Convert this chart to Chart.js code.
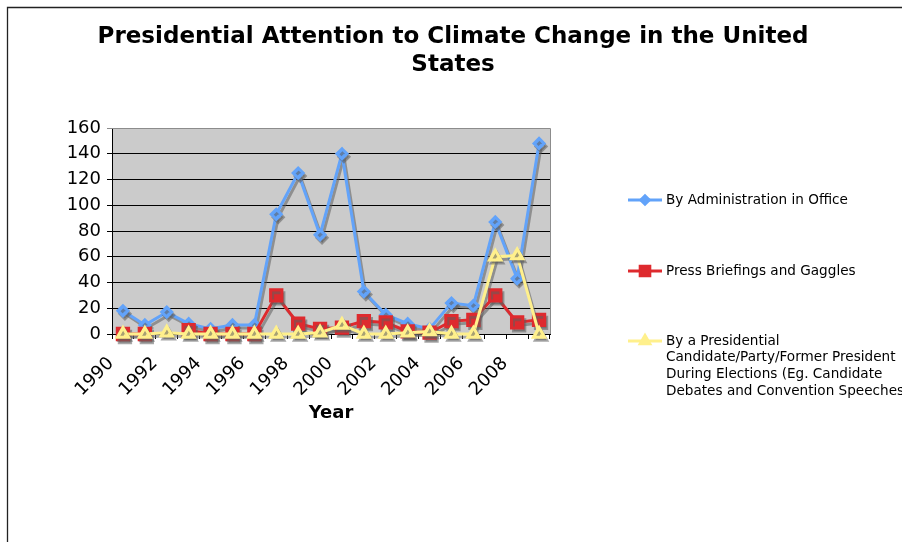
<!DOCTYPE html>
<html>
<head>
<meta charset="utf-8">
<script src="https://cdn.jsdelivr.net/npm/chart.js@4.4.1/dist/chart.umd.min.js"></script>
<style>
  html, body { margin: 0; padding: 0; background: #ffffff; }
  #wrap { width: 902px; height: 542px; position: relative; }
</style>
</head>
<body>
<div id="wrap"><canvas id="chart" width="902" height="542"></canvas></div>
<script>
// Years on the category axis
const years = ['1990','1991','1992','1993','1994','1995','1996','1997','1998','1999',
               '2000','2001','2002','2003','2004','2005','2006','2007','2008','2009'];

// Number of climate change mentions per year
const administrationInOffice = [18, 7, 17, 8, 4, 7, 7, 93, 125, 77, 140, 33, 15, 8, 4, 24, 22, 87, 43, 148];
const pressBriefings         = [0, 0, null, 3, 0, 0, 0, 30, 8, 4, 5, 10, 9, 2, 1, 10, 11, 30, 9, 11];
const candidatesAndParties   = [0, 0, 1, 0, 0, 0, 0, 0, 0, 1, 7, 0, 0, 1, 2, 0, 0, 60, 61, 0];

// Value axis ticks
const yTicks = [0, 20, 40, 60, 80, 100, 120, 140, 160];

const seriesNames = [
  'By Administration in Office',
  'Press Briefings and Gaggles',
  'By a Presidential Candidate/Party/Former President During Elections (Eg. Candidate Debates and Convention Speeches)'
];

const titleLines = ['Presidential Attention to Climate Change in the United', 'States'];
const xAxisTitle = 'Year';

const FONT = "'DejaVu Sans', Verdana, sans-serif";

// Gray plot background with a light border on top and right
const plotFrame = {
  id: 'plotFrame',
  beforeDraw(chart) {
    const { ctx, chartArea: a } = chart;
    ctx.save();
    ctx.fillStyle = '#cbcbcb';
    ctx.fillRect(a.left, a.top, a.right - a.left, a.bottom - a.top);
    ctx.restore();
  },
  beforeDatasetsDraw(chart) {
    const { ctx, chartArea: a } = chart;
    ctx.save();
    ctx.strokeStyle = '#8c8c8c';
    ctx.lineWidth = 1;
    ctx.beginPath();
    ctx.moveTo(a.left, Math.round(a.top) + 0.5);
    ctx.lineTo(Math.round(a.right) + 0.5, Math.round(a.top) + 0.5);
    ctx.lineTo(Math.round(a.right) + 0.5, a.bottom);
    ctx.stroke();
    ctx.restore();
  }
};

// Drop shadow under each series
const seriesShadow = {
  id: 'seriesShadow',
  beforeDatasetDraw(chart) {
    const ctx = chart.ctx;
    ctx.save();
    ctx.shadowColor = 'rgba(95,95,95,0.55)';
    ctx.shadowOffsetX = 2;
    ctx.shadowOffsetY = 3;
    ctx.shadowBlur = 0;
  },
  afterDatasetDraw(chart) {
    chart.ctx.restore();
  }
};

// Title, outer frame and the legend on the right
const decorations = {
  id: 'decorations',
  afterDraw(chart) {
    const ctx = chart.ctx;
    ctx.save();

    // outer frame (top and left edges)
    ctx.strokeStyle = '#222';
    ctx.lineWidth = 1.3;
    ctx.beginPath();
    ctx.moveTo(7.5, 542);
    ctx.lineTo(7.5, 7.5);
    ctx.lineTo(902, 7.5);
    ctx.stroke();

    // title
    ctx.fillStyle = '#000';
    ctx.font = 'bold 23px ' + FONT;
    ctx.textAlign = 'center';
    ctx.textBaseline = 'middle';
    ctx.fillText(titleLines[0], 453, 37);
    ctx.fillText(titleLines[1], 453, 65);

    // legend
    const rows = [200, 271, 341];
    const lineH = 16.7;
    ctx.font = '13.6px ' + FONT;
    ctx.textAlign = 'left';
    chart.data.datasets.forEach((ds, i) => {
      const y = rows[i];
      ctx.strokeStyle = ds.borderColor;
      ctx.lineWidth = ds.borderWidth;
      ctx.beginPath();
      ctx.moveTo(628, y);
      ctx.lineTo(662, y);
      ctx.stroke();
      ctx.fillStyle = ds.pointBackgroundColor;
      ctx.strokeStyle = ds.pointBorderColor;
      Chart.helpers.drawPoint(ctx, {
        pointStyle: ds.pointStyle,
        radius: ds.pointRadius * 0.85,
        rotation: 0,
        borderWidth: 1
      }, 645, y);

      // wrap the series name
      const words = ds.label.split(' ');
      const lines = [];
      let cur = '';
      words.forEach(w => {
        const test = cur ? cur + ' ' + w : w;
        if (cur && ctx.measureText(test).width > 250) {
          lines.push(cur);
          cur = w;
        } else {
          cur = test;
        }
      });
      if (cur) lines.push(cur);
      ctx.fillStyle = '#000';
      lines.forEach((ln, k) => ctx.fillText(ln, 666, y + k * lineH));
    });
    ctx.restore();
  }
};

new Chart(document.getElementById('chart'), {
  type: 'line',
  data: {
    labels: years,
    datasets: [
      {
        label: seriesNames[0],
        data: administrationInOffice,
        borderColor: '#62a3fa',
        backgroundColor: '#62a3fa',
        pointBackgroundColor: '#62a3fa',
        pointBorderColor: '#62a3fa',
        pointStyle: 'rectRot',
        pointRadius: 5,
        borderWidth: 3,
        order: 3,
        clip: false
      },
      {
        label: seriesNames[1],
        data: pressBriefings,
        borderColor: '#de2a2e',
        backgroundColor: '#de2a2e',
        pointBackgroundColor: '#de2a2e',
        pointBorderColor: '#de2a2e',
        pointStyle: 'rect',
        pointRadius: 8,
        borderWidth: 3,
        order: 2,
        clip: false
      },
      {
        label: seriesNames[2],
        data: candidatesAndParties,
        borderColor: '#fff08c',
        backgroundColor: '#fff08c',
        pointBackgroundColor: '#fff08c',
        pointBorderColor: '#fff08c',
        pointStyle: 'triangle',
        pointRadius: 6.5,
        borderWidth: 3,
        order: 1,
        clip: false
      }
    ]
  },
  options: {
    responsive: false,
    animation: false,
    devicePixelRatio: 1,
    layout: { padding: { left: 0, top: 128, right: 352, bottom: 0 } },
    plugins: {
      legend: { display: false },
      title: { display: false },
      tooltip: { enabled: false }
    },
    elements: { line: { tension: 0 } },
    scales: {
      x: {
        type: 'category',
        offset: true,
        afterFit(scale) { scale.height = 208; },
        grid: {
          offset: true,
          drawOnChartArea: false,
          drawTicks: true,
          tickLength: 5,
          color: '#000'
        },
        border: { color: '#000', width: 1 },
        ticks: {
          autoSkip: false,
          minRotation: 45,
          maxRotation: 45,
          padding: 14,
          labelOffset: -12,
          color: '#000',
          font: { family: FONT, size: 18 },
          callback(value, index) {
            return index % 2 === 0 ? this.getLabelForValue(value) : '';
          }
        },
        title: {
          display: true,
          text: xAxisTitle,
          color: '#000',
          font: { family: FONT, size: 18, weight: 'bold' },
          padding: { top: 0, bottom: 118 }
        }
      },
      y: {
        min: 0,
        max: 160,
        afterFit(scale) { scale.width = 112; },
        afterBuildTicks(scale) { scale.ticks = yTicks.map(v => ({ value: v })); },
        grid: {
          drawTicks: true,
          tickLength: 5,
          color(ctx) { return ctx.tick && ctx.tick.value === 160 ? '#8c8c8c' : '#000'; }
        },
        border: { color: '#000', width: 1 },
        ticks: {
          padding: 6,
          color: '#000',
          font: { family: FONT, size: 18 }
        }
      }
    }
  },
  plugins: [plotFrame, seriesShadow, decorations]
});
</script>
</body>
</html>
